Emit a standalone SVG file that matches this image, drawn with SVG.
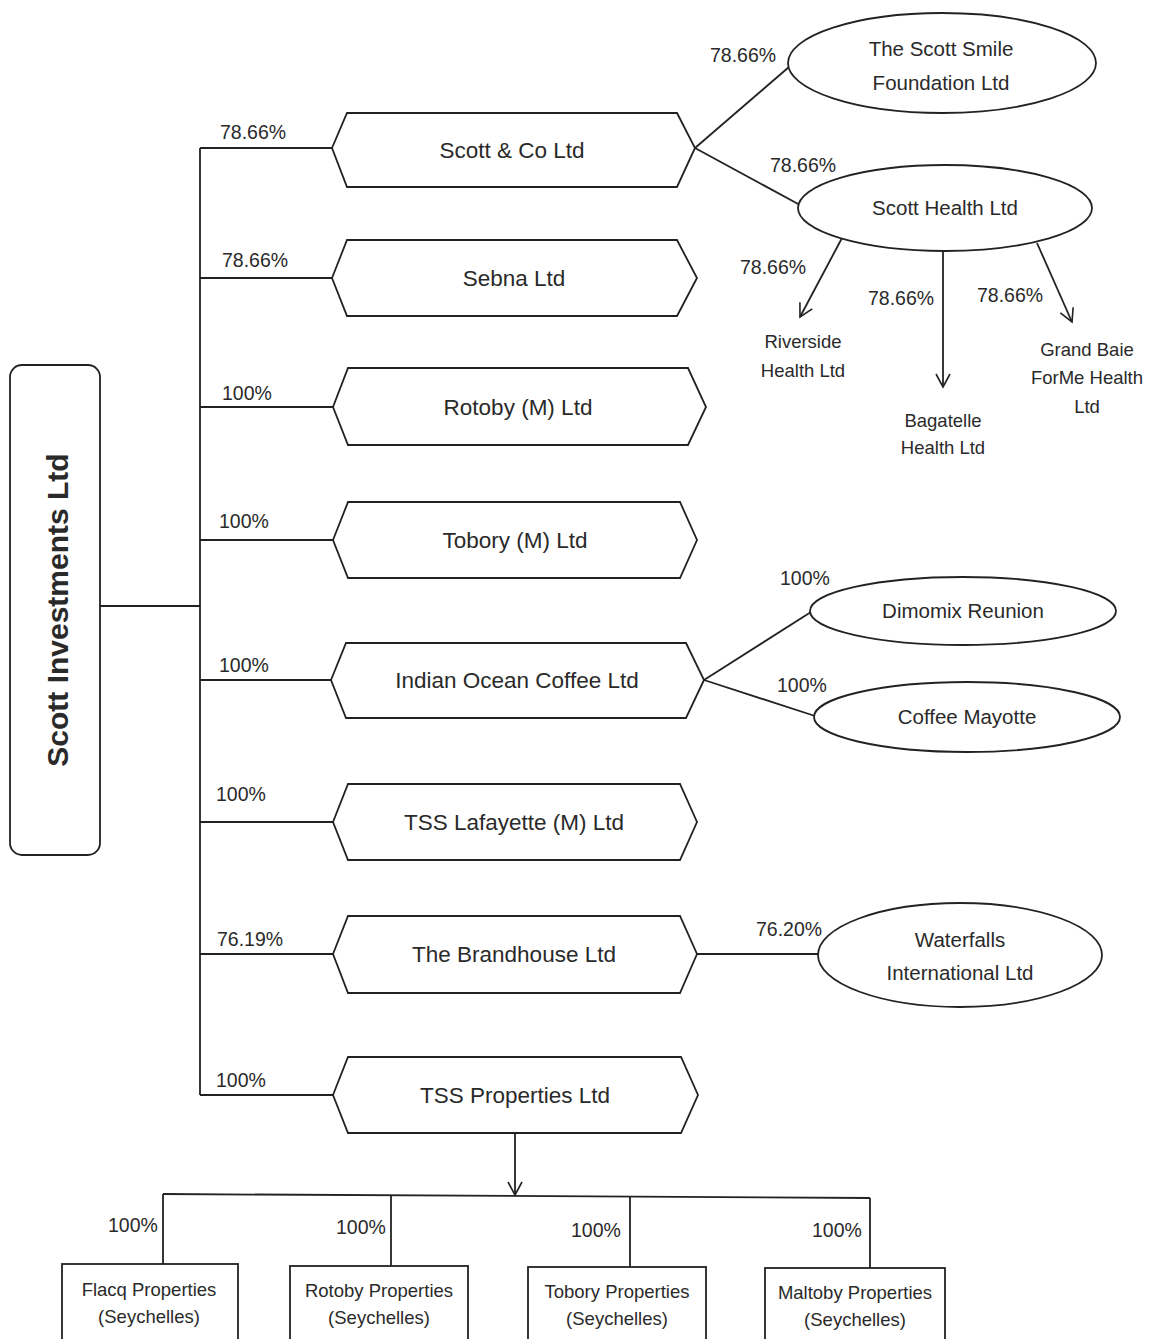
<svg xmlns="http://www.w3.org/2000/svg" width="1150" height="1339" viewBox="0 0 1150 1339">
<style>
.ln{stroke:#222;stroke-width:1.8;fill:none}
.sh{stroke:#222;stroke-width:1.8;fill:#fff}
text{font-family:"Liberation Sans",Arial,sans-serif;fill:#2a2a2a}
.hx{font-size:22.5px;text-anchor:middle}
.pc{font-size:19.5px}
.el{font-size:20.5px;text-anchor:middle}
.sm{font-size:18.5px;text-anchor:middle}
</style>
<defs>
<marker id="v" markerWidth="16" markerHeight="16" refX="14" refY="8" orient="auto" markerUnits="userSpaceOnUse">
<path d="M1,1 L14,8 L1,15" fill="none" stroke="#222" stroke-width="1.6"/>
</marker>
</defs>
<rect width="1150" height="1339" fill="#fff"/>
<g id="connectors">
<line class="ln" x1="100" y1="606" x2="200" y2="606"/>
<line class="ln" x1="200" y1="148" x2="200" y2="1095"/>
<line class="ln" x1="200" y1="148" x2="332" y2="148"/>
<line class="ln" x1="200" y1="278" x2="332" y2="278"/>
<line class="ln" x1="200" y1="407" x2="333" y2="407"/>
<line class="ln" x1="200" y1="540" x2="333" y2="540"/>
<line class="ln" x1="200" y1="680" x2="331" y2="680"/>
<line class="ln" x1="200" y1="822" x2="333" y2="822"/>
<line class="ln" x1="200" y1="954" x2="333" y2="954"/>
<line class="ln" x1="200" y1="1095" x2="333" y2="1095"/>
<line class="ln" x1="695" y1="148" x2="789" y2="67"/>
<line class="ln" x1="695" y1="148" x2="800" y2="205"/>
<line class="ln" x1="842" y1="238" x2="800" y2="317" marker-end="url(#v)"/>
<line class="ln" x1="943" y1="251" x2="943" y2="387" marker-end="url(#v)"/>
<line class="ln" x1="1037" y1="243" x2="1072" y2="322" marker-end="url(#v)"/>
<line class="ln" x1="704" y1="680" x2="811" y2="612"/>
<line class="ln" x1="704" y1="680" x2="815" y2="716"/>
<line class="ln" x1="697" y1="954" x2="818" y2="954"/>
<line class="ln" x1="515" y1="1133" x2="515" y2="1195" marker-end="url(#v)"/>
<line class="ln" x1="163" y1="1194" x2="870" y2="1198"/>
<line class="ln" x1="163" y1="1194" x2="163" y2="1264"/>
<line class="ln" x1="391" y1="1195" x2="391" y2="1266"/>
<line class="ln" x1="630" y1="1197" x2="630" y2="1267"/>
<line class="ln" x1="870" y1="1198" x2="870" y2="1268"/>
<text class="pc" x="220" y="139">78.66%</text>
<text class="pc" x="222" y="267">78.66%</text>
<text class="pc" x="222" y="400">100%</text>
<text class="pc" x="219" y="528">100%</text>
<text class="pc" x="219" y="672">100%</text>
<text class="pc" x="216" y="801">100%</text>
<text class="pc" x="217" y="946">76.19%</text>
<text class="pc" x="216" y="1087">100%</text>
<text class="pc" x="710" y="62">78.66%</text>
<text class="pc" x="770" y="172">78.66%</text>
<text class="pc" x="740" y="274">78.66%</text>
<text class="pc" x="868" y="305">78.66%</text>
<text class="pc" x="977" y="302">78.66%</text>
<text class="pc" x="780" y="585">100%</text>
<text class="pc" x="777" y="692">100%</text>
<text class="pc" x="756" y="936">76.20%</text>
<text class="pc" x="108" y="1232">100%</text>
<text class="pc" x="336" y="1234">100%</text>
<text class="pc" x="571" y="1237">100%</text>
<text class="pc" x="812" y="1237">100%</text>
</g>
<g id="scott-investments">
<rect class="sh" x="10" y="365" width="90" height="490" rx="12"/>
<text transform="translate(68,610) rotate(-90)" text-anchor="middle" font-size="30" font-weight="bold">Scott Investments Ltd</text>
</g>
<g id="scott-co">
<polygon class="sh" points="332,148 347,113 677,113 695,148 677,187 347,187"/>
<text class="hx" x="512" y="158">Scott &amp; Co Ltd</text>
</g>
<g id="sebna">
<polygon class="sh" points="332,278 347,240 677,240 697,278 677,316 347,316"/>
<text class="hx" x="514" y="286">Sebna Ltd</text>
</g>
<g id="rotoby">
<polygon class="sh" points="333,407 348,368 688,368 706,407 688,445 348,445"/>
<text class="hx" x="518" y="415">Rotoby (M) Ltd</text>
</g>
<g id="tobory">
<polygon class="sh" points="333,540 348,502 680,502 697,540 680,578 348,578"/>
<text class="hx" x="515" y="548">Tobory (M) Ltd</text>
</g>
<g id="indian-ocean">
<polygon class="sh" points="331,680 346,643 686,643 704,680 686,718 346,718"/>
<text class="hx" x="517" y="688">Indian Ocean Coffee Ltd</text>
</g>
<g id="tss-lafayette">
<polygon class="sh" points="333,822 348,784 680,784 697,822 680,860 348,860"/>
<text class="hx" x="514" y="830">TSS Lafayette (M) Ltd</text>
</g>
<g id="brandhouse">
<polygon class="sh" points="333,954 348,916 680,916 697,954 680,993 348,993"/>
<text class="hx" x="514" y="962">The Brandhouse Ltd</text>
</g>
<g id="tss-properties">
<polygon class="sh" points="333,1095 348,1057 681,1057 698,1095 681,1133 348,1133"/>
<text class="hx" x="515" y="1103">TSS Properties Ltd</text>
</g>
<g id="smile-foundation">
<ellipse class="sh" cx="942" cy="63" rx="154" ry="50"/>
<text class="el" x="941" y="56">The Scott Smile</text>
<text class="el" x="941" y="90">Foundation Ltd</text>
</g>
<g id="scott-health">
<ellipse class="sh" cx="945" cy="208" rx="147" ry="43"/>
<text class="el" x="945" y="215">Scott Health Ltd</text>
</g>
<g id="riverside">
<text class="sm" x="803" y="348">Riverside</text>
<text class="sm" x="803" y="377">Health Ltd</text>
</g>
<g id="bagatelle">
<text class="sm" x="943" y="427">Bagatelle</text>
<text class="sm" x="943" y="454">Health Ltd</text>
</g>
<g id="grand-baie">
<text class="sm" x="1087" y="356">Grand Baie</text>
<text class="sm" x="1087" y="384">ForMe Health</text>
<text class="sm" x="1087" y="413">Ltd</text>
</g>
<g id="dimomix">
<ellipse class="sh" cx="963" cy="611" rx="153" ry="34"/>
<text class="el" x="963" y="618">Dimomix Reunion</text>
</g>
<g id="coffee-mayotte">
<ellipse class="sh" cx="967" cy="717" rx="153" ry="35"/>
<text class="el" x="967" y="724">Coffee  Mayotte</text>
</g>
<g id="waterfalls">
<ellipse class="sh" cx="960" cy="955" rx="142" ry="52"/>
<text class="el" x="960" y="947">Waterfalls</text>
<text class="el" x="960" y="980">International Ltd</text>
</g>
<g id="flacq">
<rect class="sh" x="62" y="1264" width="176" height="85"/>
<text class="sm" x="149" y="1296">Flacq Properties</text>
<text class="sm" x="149" y="1323">(Seychelles)</text>
</g>
<g id="rotoby-prop">
<rect class="sh" x="290" y="1266" width="178" height="85"/>
<text class="sm" x="379" y="1297">Rotoby Properties</text>
<text class="sm" x="379" y="1324">(Seychelles)</text>
</g>
<g id="tobory-prop">
<rect class="sh" x="528" y="1267" width="178" height="85"/>
<text class="sm" x="617" y="1298">Tobory Properties</text>
<text class="sm" x="617" y="1325">(Seychelles)</text>
</g>
<g id="maltoby-prop">
<rect class="sh" x="765" y="1268" width="180" height="85"/>
<text class="sm" x="855" y="1299">Maltoby Properties</text>
<text class="sm" x="855" y="1326">(Seychelles)</text>
</g>
</svg>
